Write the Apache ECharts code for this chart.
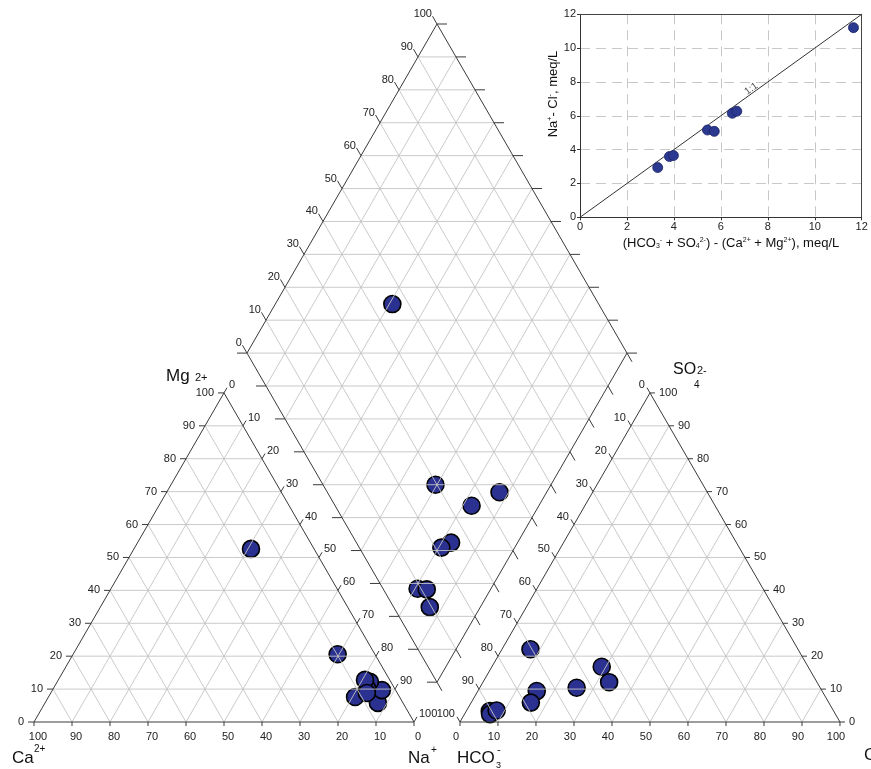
<!DOCTYPE html>
<html><head><meta charset="utf-8">
<script src="https://cdn.jsdelivr.net/npm/echarts/dist/echarts.min.js"></script>
<style>html,body{margin:0;padding:0;background:#fff}#c{width:871px;height:769px}</style>
</head><body><div id="c"></div>
<script>
// ---- data (percent of meq) ----
const sampleCa   = [16.6, 9.8, 6.6, 3.6, 5.5, 7.2, 6.5, 11.7, 8.0];
const sampleMg   = [52.6, 20.6, 5.8, 9.7, 12.2, 10.3, 12.8, 7.6, 8.8];
const sampleNa   = [30.8, 69.6, 87.6, 86.7, 82.3, 82.5, 80.7, 80.7, 83.2];
const sampleHCO3 = [54.3, 70.4, 54.7, 90.5, 64.1, 75.1, 78.4, 90.9, 88.6];
const sampleSO4  = [16.8, 22.1, 12.1, 3.3, 10.4, 9.4, 5.9, 2.4, 3.5];
const sampleCl   = [28.9, 7.5, 33.2, 6.2, 25.5, 15.5, 15.7, 6.7, 7.9];
// inset (meq/L)
const excessAnion = [3.31, 3.81, 3.98, 5.43, 5.72, 6.49, 6.68, 11.65];
const naMinusCl   = [2.94, 3.59, 3.65, 5.16, 5.08, 6.15, 6.27, 11.21];
const oneToOne    = [[0, 0], [12, 12]];
const oneToOneLabelAt = [7.3, 7.6];
// tick labels
const ternaryTicks = [0, 10, 20, 30, 40, 50, 60, 70, 80, 90, 100];
const insetMin = 0, insetMax = 12, insetStep = 2;

// ---- geometry (ternary units: triangle side = 100) ----
const FONT = "'Liberation Sans', Arial, sans-serif";
const PX = 3.8;
const H = Math.sqrt(3) / 2;
const GAP = 12.1;
const L0 = [0, 0], L1 = [100, 0], L2 = [50, 100 * H];
const R0 = [100 + GAP, 0], R1 = [200 + GAP, 0], R2 = [150 + GAP, 100 * H];
const DB = [100 + GAP / 2, GAP * H];
const DL = [DB[0] - 50, DB[1] + 100 * H], DR = [DB[0] + 50, DB[1] + 100 * H], DT = [DB[0], DB[1] + 200 * H];
function lerp(a, b, t) { return [a[0] + (b[0] - a[0]) * t, a[1] + (b[1] - a[1]) * t]; }
function off(p, dx, dy) { return [p[0] + dx / PX, p[1] - dy / PX]; }

const cationPts = sampleCa.map((ca, i) => [sampleNa[i] + sampleMg[i] * 0.5, sampleMg[i] * H]);
const anionPts = sampleHCO3.map((h, i) => [R0[0] + sampleCl[i] + sampleSO4[i] * 0.5, sampleSO4[i] * H]);
const diamondPts = sampleCa.map((ca, i) => {
  const C = ca + sampleMg[i], S = sampleSO4[i] + sampleCl[i];
  return [DB[0] + 0.5 * (S - C), DB[1] + H * (S + C)];
});

const segs = [], kinds = [];
function seg(a, b, k) { segs.push([a[0], a[1], b[0], b[1]]); kinds.push(k); }
function triLattice(B0, B1, A) {
  for (let k = 1; k < 10; k++) {
    const t = k / 10;
    seg(lerp(B0, A, t), lerp(B1, A, t), 0);
    seg(lerp(B0, B1, t), lerp(B1, A, 1 - t), 0);
    seg(lerp(B0, B1, t), lerp(B0, A, t), 0);
  }
}
triLattice(L0, L1, L2);
triLattice(R0, R1, R2);
for (let k = 1; k < 10; k++) {
  const t = k / 10;
  seg(lerp(DB, DL, t), lerp(DR, DT, t), 0);
  seg(lerp(DB, DR, t), lerp(DL, DT, t), 0);
  seg(lerp(DB, DL, t), lerp(DB, DR, t), 0);
  seg(lerp(DL, DT, t), lerp(DR, DT, t), 0);
}
seg(DL, DR, 0);
// outlines
[[L0, L1], [L1, L2], [L2, L0], [R0, R1], [R1, R2], [R2, R0], [DB, DL], [DL, DT], [DT, DR], [DR, DB]].forEach(e => seg(e[0], e[1], 1));

const labels = [];
function lab(p, text, dx, dy, align) { labels.push({ p, text: String(text), dx, dy, align }); }
ternaryTicks.forEach((v, k) => {
  const t = k / 10;
  let p;
  // left triangle
  p = lerp(L0, L1, t); seg(p, off(p, 0, 4), 1); lab(p, 100 - v, 4, 15, 'center');
  p = lerp(L0, L2, t); seg(p, off(p, -6, 0), 1); lab(p, v, -10, 0, 'right');
  p = lerp(L2, L1, t); seg(p, off(p, 3, -5.2), 1); lab(p, v, 5, -8, 'left');
  // right triangle
  p = lerp(R0, R1, t); seg(p, off(p, 0, 4), 1); lab(p, v, -4, 15, 'center');
  p = lerp(R2, R0, t); seg(p, off(p, -3, -5.2), 1); lab(p, v, -5, -8, 'right');
  p = lerp(R1, R2, t); seg(p, off(p, 5, 0), 1); lab(p, v, 9, 0, 'left');
  // diamond
  p = lerp(DL, DT, t); seg(p, off(p, -4.5, -7.8), 1); lab(p, v, -5, -10, 'right');
  p = lerp(DT, DR, t); seg(p, off(p, 10, 0), 1);
  p = lerp(DL, DB, t); seg(p, off(p, -10, 0), 1);
  p = lerp(DR, DB, t); seg(p, off(p, 5, 8.7), 1);
});

const markerStyle = { color: '#2b3190', borderColor: '#000', borderWidth: 1.6, opacity: 1 };
function piperScatter(pts) {
  return { type: 'scatter', xAxisIndex: 0, yAxisIndex: 0, data: pts, symbol: 'circle', symbolSize: 17, itemStyle: markerStyle, z: 2, silent: true };
}

const chart = echarts.init(document.getElementById('c'), null, { renderer: 'canvas' });
const insetAxisCommon = {
  type: 'value', min: insetMin, max: insetMax, interval: insetStep, gridIndex: 1,
  axisLine: { show: true, onZero: false, lineStyle: { color: '#333', width: 1 } },
  axisTick: { show: true, length: 3, lineStyle: { color: '#333' } },
  axisLabel: { fontSize: 11, color: '#222', fontFamily: FONT, margin: 4 },
  splitLine: { show: true, lineStyle: { color: '#c8c8c8', type: [10, 6], width: 1 } }
};
const boxAxis = {
  type: 'value', min: insetMin, max: insetMax, interval: insetStep, gridIndex: 1, z: 6,
  axisLine: { show: true, onZero: false, lineStyle: { color: '#444', width: 1 } },
  axisTick: { show: false }, axisLabel: { show: false }, splitLine: { show: false }
};
chart.setOption({
  animation: false,
  backgroundColor: '#fff',
  grid: [
    { left: 0, top: 0, width: 871, height: 769 },
    { left: 580, top: 14.3, width: 281.7, height: 203 }
  ],
  xAxis: [
    { type: 'value', gridIndex: 0, min: -34 / PX, max: (871 - 34) / PX, show: false },
    Object.assign({}, insetAxisCommon, { position: 'bottom' }),
    Object.assign({}, boxAxis, { position: 'top' })
  ],
  yAxis: [
    { type: 'value', gridIndex: 0, min: (722 - 769) / PX, max: 722 / PX, show: false },
    Object.assign({}, insetAxisCommon, { position: 'left' }),
    Object.assign({}, boxAxis, { position: 'right' })
  ],
  graphic: [
    { type: 'text', x: 166, y: 376, style: { text: 'Mg', fontSize: 17, fontFamily: FONT, fill: '#111', verticalAlign: 'middle' } },
    { type: 'text', x: 195, y: 378, style: { text: '2+', fontSize: 11, fontFamily: FONT, fill: '#111', verticalAlign: 'middle' } },
    { type: 'text', x: 12, y: 758, style: { text: 'Ca', fontSize: 17, fontFamily: FONT, fill: '#111', verticalAlign: 'middle' } },
    { type: 'text', x: 34, y: 749, style: { text: '2+', fontSize: 10, fontFamily: FONT, fill: '#111', verticalAlign: 'middle' } },
    { type: 'text', x: 408, y: 758, style: { text: 'Na', fontSize: 17, fontFamily: FONT, fill: '#111', verticalAlign: 'middle' } },
    { type: 'text', x: 431, y: 750, style: { text: '+', fontSize: 10, fontFamily: FONT, fill: '#111', verticalAlign: 'middle' } },
    { type: 'text', x: 457, y: 758, style: { text: 'HCO', fontSize: 17, fontFamily: FONT, fill: '#111', verticalAlign: 'middle' } },
    { type: 'text', x: 496, y: 766, style: { text: '3', fontSize: 9, fontFamily: FONT, fill: '#111', verticalAlign: 'middle' } },
    { type: 'text', x: 497, y: 750, style: { text: '-', fontSize: 11, fontFamily: FONT, fill: '#111', verticalAlign: 'middle' } },
    { type: 'text', x: 673, y: 370, style: { text: 'SO', fontSize: 16, fontFamily: FONT, fill: '#111', verticalAlign: 'middle' } },
    { type: 'text', x: 697, y: 371, style: { text: '2-', fontSize: 11, fontFamily: FONT, fill: '#111', verticalAlign: 'middle' } },
    { type: 'text', x: 694, y: 385, style: { text: '4', fontSize: 10, fontFamily: FONT, fill: '#111', verticalAlign: 'middle' } },
    { type: 'text', x: 864, y: 755, style: { text: 'Cl', fontSize: 17, fontFamily: FONT, fill: '#111', verticalAlign: 'middle' } },
    { type: 'text', x: 731, y: 243, style: {
        text: '(HCO{sub|3}{sup|-} + SO{sub|4}{sup|2-}) - (Ca{sup|2+} + Mg{sup|2+}), meq/L',
        fontSize: 13, fontFamily: FONT, fill: '#111', align: 'center', verticalAlign: 'middle',
        rich: { sub: { fontSize: 7, verticalAlign: 'bottom', fontFamily: FONT, fill: '#111' }, sup: { fontSize: 7, verticalAlign: 'top', fontFamily: FONT, fill: '#111' } } } },
    { type: 'text', x: 553, y: 94, rotation: Math.PI / 2, style: {
        text: 'Na{sup|+}- Cl{sup|-}, meq/L',
        fontSize: 13, fontFamily: FONT, fill: '#111', align: 'center', verticalAlign: 'middle',
        rich: { sup: { fontSize: 7, verticalAlign: 'top', fontFamily: FONT, fill: '#111' } } } }
  ],
  series: [
    piperScatter(cationPts),
    piperScatter(anionPts),
    piperScatter(diamondPts),
    {
      type: 'custom', xAxisIndex: 0, yAxisIndex: 0, z: 3, silent: true, data: segs,
      renderItem: function (params, api) {
        const a = api.coord([api.value(0), api.value(1)]);
        const b = api.coord([api.value(2), api.value(3)]);
        const k = kinds[params.dataIndex];
        return { type: 'line', shape: { x1: a[0], y1: a[1], x2: b[0], y2: b[1] },
          style: { stroke: k === 0 ? '#c4c4c4' : '#3a3a3a', lineWidth: k === 0 ? 0.9 : 1 } };
      }
    },
    {
      type: 'custom', xAxisIndex: 0, yAxisIndex: 0, z: 4, silent: true, data: labels.map(l => l.p),
      renderItem: function (params, api) {
        const L = labels[params.dataIndex];
        const c = api.coord([api.value(0), api.value(1)]);
        return { type: 'text', x: c[0] + L.dx, y: c[1] + L.dy,
          style: { text: L.text, align: L.align, verticalAlign: 'middle', fill: '#222', fontSize: 11, fontFamily: FONT } };
      }
    },
    {
      type: 'line', xAxisIndex: 1, yAxisIndex: 1, data: oneToOne, symbol: 'none', silent: true,
      lineStyle: { color: '#333', width: 1 }, z: 3
    },
    {
      type: 'scatter', xAxisIndex: 1, yAxisIndex: 1, data: excessAnion.map((x, i) => [x, naMinusCl[i]]),
      symbolSize: 10, itemStyle: { color: '#2b3990', borderColor: '#1c2366', borderWidth: 0.8, opacity: 1 }, z: 4, silent: true
    },
    {
      type: 'scatter', xAxisIndex: 1, yAxisIndex: 1, data: [oneToOneLabelAt], symbolSize: 0, silent: true,
      label: { show: true, position: 'inside', formatter: '1:1', rotate: 36, fontSize: 10, color: '#222', fontFamily: FONT }, z: 5
    }
  ]
});
</script>
</body></html>
